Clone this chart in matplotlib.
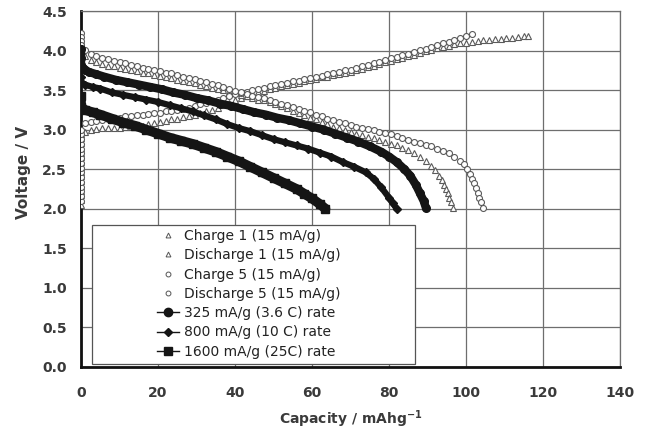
import matplotlib
matplotlib.use("Agg")
import matplotlib.pyplot as plt
from matplotlib.patches import Rectangle

plt.rcParams['font.family'] = ['DejaVu Sans']

# ---------------- data ----------------
# Charge 1 (triangles, 15 mA/g)
c1_x = [0, 0, 0, 0, 0, 0, 0, 0, 0, 0, 0, 0, 0, 0, 0, 0,
        1, 2.5, 4, 5.5, 7, 8.5, 10, 11.5, 13, 14.5, 16, 17.5, 19, 20.5, 22, 23.5,
        25, 26.5, 28, 29.5, 31, 32.5, 34, 35.5, 37, 38.5, 40, 41.5, 43, 44.5, 46,
        47.5, 49, 50.5, 52, 53.5, 55, 56.5, 58, 59.5, 61, 62.5, 64, 65.5, 67, 68.5,
        70, 71.5, 73, 74.5, 76, 77.5, 79, 80.5, 82, 83.5, 85, 86.5, 88, 89.5, 91,
        92.5, 94, 95.5, 97, 98.5, 100, 101.5, 103, 104.5, 106, 107.5, 109, 110.5,
        112, 113.5, 115, 116]
c1_y = [2.05, 2.11, 2.17, 2.23, 2.29, 2.35, 2.41, 2.47, 2.53, 2.59, 2.65, 2.71,
        2.77, 2.83, 2.89, 2.95,
        2.97, 2.99, 3.01, 3.02, 3.02, 3.02, 3.02, 3.03, 3.03, 3.04, 3.05, 3.07,
        3.08, 3.10, 3.11, 3.13, 3.14, 3.16, 3.17, 3.19, 3.21, 3.23, 3.25, 3.28,
        3.31, 3.34, 3.37, 3.40, 3.43, 3.45, 3.47, 3.49, 3.51, 3.53, 3.55, 3.56,
        3.58, 3.59, 3.61, 3.63, 3.64, 3.66, 3.67, 3.69, 3.70, 3.72, 3.73, 3.75,
        3.77, 3.79, 3.81, 3.83, 3.85, 3.87, 3.89, 3.91, 3.93, 3.95, 3.97, 3.99,
        4.01, 4.03, 4.05, 4.06, 4.08, 4.09, 4.10, 4.11, 4.12, 4.13, 4.13, 4.14,
        4.15, 4.16, 4.16, 4.17, 4.18, 4.19]

# Discharge 1 (triangles, 15 mA/g)
d1_x = [0, 0, 0,
        1, 2.5, 4, 5.5, 7, 8.5, 10, 11.5, 13, 14.5, 16, 17.5, 19, 20.5, 22, 23.5,
        25, 26.5, 28, 29.5, 31, 32.5, 34, 35.5, 37, 38.5, 40, 41.5, 43, 44.5, 46,
        47.5, 49, 50.5, 52, 53.5, 55, 56.5, 58, 59.5, 61, 62.5, 64, 65.5, 67, 68.5,
        70, 71.5, 73, 74.5, 76, 77.5, 79, 80.5, 82, 83.5, 85, 86.5, 88, 89.5, 91,
        92, 93, 93.7, 94.3, 94.8, 95.3, 95.7, 96.1, 96.6]
d1_y = [4.12, 4.06, 4.00,
        3.93, 3.88, 3.85, 3.83, 3.81, 3.80, 3.78, 3.77, 3.75, 3.74, 3.72, 3.71,
        3.69, 3.68, 3.66, 3.65, 3.63, 3.62, 3.60, 3.59, 3.57, 3.55, 3.53, 3.52,
        3.50, 3.48, 3.46, 3.44, 3.42, 3.40, 3.38, 3.37, 3.35, 3.32, 3.30, 3.27,
        3.24, 3.21, 3.18, 3.15, 3.13, 3.10, 3.07, 3.04, 3.02, 2.99, 2.97, 2.95,
        2.93, 2.91, 2.89, 2.87, 2.85, 2.82, 2.80, 2.77, 2.74, 2.70, 2.66, 2.61,
        2.54, 2.49, 2.42, 2.36, 2.30, 2.25, 2.20, 2.14, 2.08, 2.01]

# Charge 5 (circles, 15 mA/g)
c5_x = [0, 0, 0, 0, 0, 0, 0, 0, 0, 0, 0, 0, 0, 0, 0, 0,
        1, 2.5, 4, 5.5, 7, 8.5, 10, 11.5, 13, 14.5, 16, 17.5, 19, 20.5, 22, 23.5,
        25, 26.5, 28, 29.5, 31, 32.5, 34, 35.5, 37, 38.5, 40, 41.5, 43, 44.5, 46,
        47.5, 49, 50.5, 52, 53.5, 55, 56.5, 58, 59.5, 61, 62.5, 64, 65.5, 67, 68.5,
        70, 71.5, 73, 74.5, 76, 77.5, 79, 80.5, 82, 83.5, 85, 86.5, 88, 89.5, 91,
        92.5, 94, 95.5, 97, 98.5, 100, 101.6]
c5_y = [2.10, 2.16, 2.22, 2.28, 2.34, 2.40, 2.46, 2.52, 2.58, 2.64, 2.70, 2.76,
        2.82, 2.88, 2.94, 3.00,
        3.09, 3.10, 3.11, 3.12, 3.13, 3.14, 3.15, 3.17, 3.17, 3.18, 3.19, 3.20,
        3.21, 3.21, 3.23, 3.24, 3.25, 3.26, 3.28, 3.30, 3.32, 3.34, 3.36, 3.38,
        3.40, 3.43, 3.45, 3.46, 3.48, 3.50, 3.52, 3.53, 3.55, 3.56, 3.58, 3.59,
        3.61, 3.62, 3.64, 3.65, 3.67, 3.68, 3.70, 3.71, 3.73, 3.75, 3.76, 3.78,
        3.80, 3.82, 3.84, 3.86, 3.88, 3.90, 3.92, 3.94, 3.96, 3.98, 4.01, 4.02,
        4.04, 4.07, 4.09, 4.11, 4.13, 4.16, 4.18, 4.21]

# Discharge 5 (circles, 15 mA/g)
d5_x = [0, 0, 0, 0,
        1, 2.5, 4, 5.5, 7, 8.5, 10, 11.5, 13, 14.5, 16, 17.5, 19, 20.5, 22, 23.5,
        25, 26.5, 28, 29.5, 31, 32.5, 34, 35.5, 37, 38.5, 40, 41.5, 43, 44.5, 46,
        47.5, 49, 50.5, 52, 53.5, 55, 56.5, 58, 59.5, 61, 62.5, 64, 65.5, 67, 68.5,
        70, 71.5, 73, 74.5, 76, 77.5, 79, 80.5, 82, 83.5, 85, 86.5, 88, 89.5, 91,
        92.5, 94, 95.5, 97, 98.5, 99.5, 100.3, 101, 101.6, 102.1, 102.6, 103.1,
        103.5, 103.9, 104.4]
d5_y = [4.22, 4.17, 4.12, 4.07,
        4.01, 3.96, 3.93, 3.91, 3.89, 3.87, 3.85, 3.84, 3.82, 3.80, 3.78, 3.77,
        3.75, 3.74, 3.72, 3.71, 3.69, 3.67, 3.65, 3.64, 3.62, 3.60, 3.58, 3.56,
        3.54, 3.51, 3.49, 3.47, 3.45, 3.43, 3.41, 3.40, 3.38, 3.35, 3.33, 3.31,
        3.29, 3.26, 3.24, 3.22, 3.19, 3.17, 3.14, 3.12, 3.10, 3.08, 3.06, 3.04,
        3.02, 3.01, 2.99, 2.97, 2.96, 2.94, 2.92, 2.90, 2.87, 2.85, 2.83, 2.81,
        2.79, 2.76, 2.73, 2.70, 2.66, 2.61, 2.56, 2.50, 2.44, 2.38, 2.32, 2.26,
        2.20, 2.14, 2.08, 2.01]

# 325 mA/g (3.6 C) rate
r325_x = [0, 0, 0, 0.5, 1, 2, 4, 6, 9, 12, 15, 18, 21, 24, 27, 30, 33, 36, 39, 42, 45,
          48, 51, 54, 57, 60, 63, 66, 69, 72, 75, 78, 80, 82, 84, 85.5, 87, 88, 89, 89.6]
r325_y = [4.02, 3.90, 3.82, 3.78, 3.76, 3.73, 3.70, 3.67, 3.63, 3.60, 3.57, 3.54, 3.51,
          3.47, 3.44, 3.40, 3.37, 3.33, 3.30, 3.26, 3.22, 3.19, 3.15, 3.12, 3.08, 3.04,
          3.00, 2.95, 2.90, 2.85, 2.79, 2.72, 2.66, 2.59, 2.50, 2.42, 2.30, 2.20, 2.10,
          2.01]

# 800 mA/g (10 C) rate
r800_x = [0, 0, 1, 3, 5, 8, 11, 14, 17, 20, 23, 26, 29, 32, 35, 38, 41, 44, 47, 50, 53,
          56, 59, 62, 65, 68, 71, 74, 76, 78, 80, 81, 82]
r800_y = [3.66, 3.60, 3.57, 3.54, 3.52, 3.47, 3.44, 3.41, 3.38, 3.35, 3.31, 3.27, 3.23,
          3.18, 3.13, 3.07, 3.02, 2.98, 2.93, 2.88, 2.84, 2.80, 2.76, 2.71, 2.66, 2.59,
          2.53, 2.46, 2.38, 2.27, 2.14, 2.07, 2.00]

# 1600 mA/g (25C) rate
r1600_x = [0, 0, 1, 3, 5, 8, 11, 14, 17, 20, 23, 26, 29, 32, 35, 38, 41, 44, 47, 50,
           53, 56, 58, 60, 62, 63.5]
r1600_y = [3.42, 3.29, 3.25, 3.22, 3.19, 3.14, 3.09, 3.05, 3.00, 2.95, 2.90, 2.86, 2.82,
           2.77, 2.72, 2.66, 2.60, 2.53, 2.46, 2.39, 2.32, 2.25, 2.19, 2.13, 2.06, 2.00]

labels = ["Charge 1 (15 mA/g)", "Discharge 1 (15 mA/g)", "Charge 5 (15 mA/g)",
          "Discharge 5 (15 mA/g)", "325 mA/g (3.6 C) rate", "800 mA/g (10 C) rate",
          "1600 mA/g (25C) rate"]

x_ticks = [0, 20, 40, 60, 80, 100, 120, 140]
y_ticks = [0.0, 0.5, 1.0, 1.5, 2.0, 2.5, 3.0, 3.5, 4.0, 4.5]

# ---------------- figure ----------------
W, H = 649, 443
fig = plt.figure(figsize=(W / 100, H / 100), dpi=100)
L, R, T, B = 81, 620, 11, 367
ax = fig.add_axes([L / W, 1 - B / H, (R - L) / W, (B - T) / H])

def ax_x(px):
    return (px - L) / (R - L)

def ax_y(py):
    return (B - py) / (B - T)

open_kw = dict(linestyle='none', markerfacecolor='white', markeredgecolor='#5a5a5a',
               markeredgewidth=0.8)
ax.plot(c1_x, c1_y, marker='^', markersize=4.6, zorder=3, **open_kw)
ax.plot(d1_x, d1_y, marker='^', markersize=4.6, zorder=3, **open_kw)
ax.plot(c5_x, c5_y, marker='o', markersize=4.3, zorder=4, **open_kw)
ax.plot(d5_x, d5_y, marker='o', markersize=4.3, zorder=4, **open_kw)

ax.plot(r325_x, r325_y, color='#151515', lw=6.0, marker='o', markersize=5.5,
        solid_capstyle='round', solid_joinstyle='round', zorder=5)
ax.plot(r800_x, r800_y, color='#151515', lw=4.5, marker='D', markersize=4.0,
        solid_capstyle='round', solid_joinstyle='round', zorder=5)
ax.plot(r1600_x, r1600_y, color='#151515', lw=7.0, marker='s', markersize=5.5,
        solid_capstyle='round', solid_joinstyle='round', zorder=5)

ax.set_xlim(0, 140)
ax.set_ylim(0, 4.5)
ax.set_xticks(x_ticks)
ax.set_yticks(y_ticks)
ax.set_xticklabels([str(v) for v in x_ticks])
ax.set_yticklabels([f"{v:.1f}" for v in y_ticks])
ax.grid(True, color='#6e6e6e', lw=0.9)
ax.set_axisbelow(True)
ax.tick_params(axis='both', length=0, labelsize=10, colors='#3a3a3a')
ax.tick_params(axis='y', pad=10)
ax.tick_params(axis='x', pad=14)
for lab in ax.get_xticklabels() + ax.get_yticklabels():
    lab.set_fontweight('bold')

for s in ['top', 'right']:
    ax.spines[s].set_color('#6e6e6e')
    ax.spines[s].set_linewidth(0.9)
for s in ['left', 'bottom']:
    ax.spines[s].set_color('#111111')
    ax.spines[s].set_linewidth(2.0)

ax.set_xlabel("Capacity / mAhg$^{\\mathbf{-1}}$", fontsize=10, fontweight='bold',
              color='#3a3a3a')
ax.xaxis.set_label_coords(0.5, ax_y(408))
ax.set_ylabel("Voltage / V", fontsize=11, fontweight='bold', color='#3a3a3a')
ax.yaxis.set_label_coords(ax_x(31), ax_y(172))

# legend box (frame drawn separately to match the wide box)
box = Rectangle((ax_x(92), ax_y(364)), ax_x(415) - ax_x(92), ax_y(225) - ax_y(364),
                transform=ax.transAxes, facecolor='white', edgecolor='#555555',
                lw=0.9, zorder=6)
ax.add_patch(box)

small_open = dict(linestyle='none', markersize=3.5, markerfacecolor='white',
                  markeredgecolor='#555555', markeredgewidth=0.7)
lh = [
    plt.Line2D([], [], marker='^', **small_open),
    plt.Line2D([], [], marker='^', **small_open),
    plt.Line2D([], [], marker='o', **small_open),
    plt.Line2D([], [], marker='o', **small_open),
    plt.Line2D([], [], color='#151515', lw=1.0, marker='o', markersize=6),
    plt.Line2D([], [], color='#151515', lw=1.0, marker='D', markersize=4),
    plt.Line2D([], [], color='#151515', lw=1.0, marker='s', markersize=6),
]
leg = ax.legend(lh, labels, loc='upper left',
                bbox_to_anchor=(ax_x(157), ax_y(229)),
                frameon=False, fontsize=10, labelspacing=0.38, handlelength=1.6,
                handletextpad=0.35, borderpad=0, borderaxespad=0)
leg.set_zorder(7)
for t in leg.get_texts():
    t.set_color('#222222')

fig.savefig("out.png", dpi=100)
